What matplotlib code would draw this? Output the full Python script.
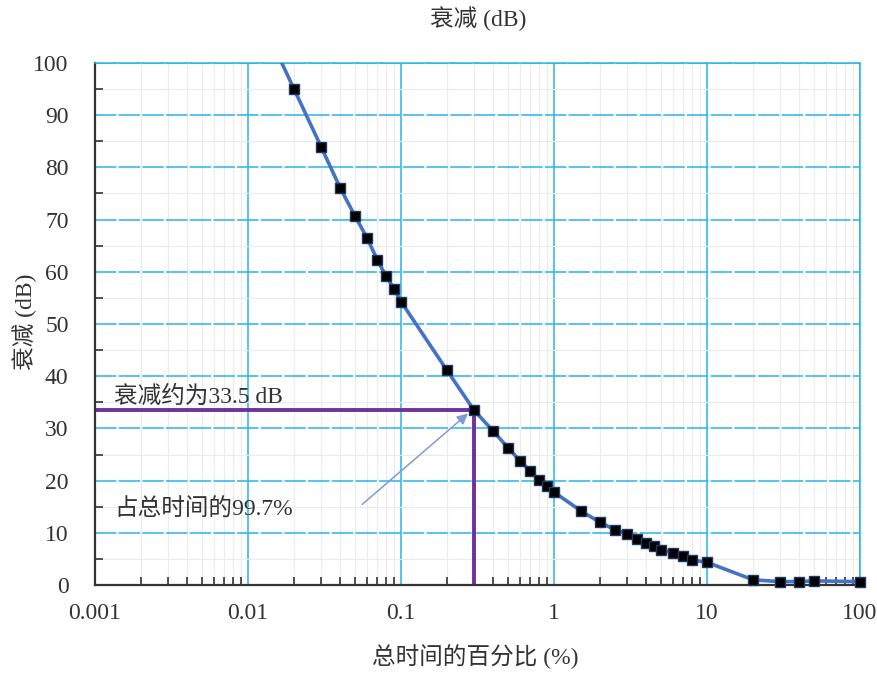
import numpy as np
import matplotlib.pyplot as plt
from matplotlib.ticker import LogLocator, MultipleLocator, FixedLocator, FixedFormatter

plt.rcParams['font.family'] = ['Liberation Serif', 'Noto Sans CJK SC', 'DejaVu Sans']

# percentage of total time (%) vs attenuation (dB)
pct = [0.02, 0.03, 0.04, 0.05, 0.06, 0.07, 0.08, 0.09, 0.1, 0.2, 0.3,
       0.4, 0.5, 0.6, 0.7, 0.8, 0.9, 1.0, 1.5, 2, 2.5, 3, 3.5, 4, 4.5, 5,
       6, 7, 8, 10, 20, 30, 40, 50, 100]
att = [95.0, 84.0, 76.1, 70.7, 66.5, 62.3, 59.1, 56.8, 54.3, 41.1, 33.5,
       29.5, 26.3, 23.8, 21.8, 20.1, 19.0, 17.8, 14.2, 12.0, 10.6, 9.8, 8.75, 8.1, 7.4, 6.8,
       6.2, 5.5, 4.8, 4.35, 1.0, 0.65, 0.65, 0.8, 0.65]
# curve continues above the top of the axes
line_x = [0.015] + pct
line_y = [102.8] + att

mark_x = 0.3
mark_y = 33.5

xticks = [0.001, 0.01, 0.1, 1, 10, 100]
xlabels = ['0.001', '0.01', '0.1', '1', '10', '100']

grid_c = '#27b4e6'
ink = '#333333'

fig = plt.figure(figsize=(8.77, 6.75), dpi=100)
ax = fig.add_axes([0.1083, 0.1333, 0.8723, 0.7734])

ax.set_xscale('log')
ax.set_xlim(0.001, 100)
ax.set_ylim(0, 100)

ax.xaxis.set_major_locator(FixedLocator(xticks))
ax.xaxis.set_major_formatter(FixedFormatter(xlabels))
ax.xaxis.set_minor_locator(LogLocator(base=10, subs=np.arange(2, 10)))
ax.yaxis.set_major_locator(MultipleLocator(10))
ax.yaxis.set_minor_locator(MultipleLocator(5))

ax.grid(True, which='minor', color='#e8ecf0', lw=0.8)
ax.grid(True, axis='x', which='major', color=grid_c, lw=1.1)
ax.grid(True, axis='y', which='major', color=grid_c, lw=1.1, ls=(0, (14, 1.5)))
ax.set_axisbelow(True)

for s in ['top', 'right']:
    ax.spines[s].set_color(grid_c)
    ax.spines[s].set_linewidth(1.1)
for s in ['left', 'bottom']:
    ax.spines[s].set_color(ink)
    ax.spines[s].set_linewidth(1.6)

ax.tick_params(which='both', direction='in', colors=ink, labelcolor=ink)
ax.tick_params(which='major', length=0, labelsize=17)
ax.tick_params(axis='y', which='major', pad=19)
ax.tick_params(axis='x', which='major', pad=13)
ax.tick_params(which='minor', length=6, width=1.2)
ax.tick_params(top=False, right=False, which='both')

ax.plot(line_x, line_y, color='#4472c4', lw=2.6, zorder=3)
ax.plot(pct, att, ls='none', marker='s', ms=7.8, color='black',
        markeredgecolor='#1f3864', zorder=4, clip_on=False)

ax.plot([0.001, mark_x], [mark_y, mark_y], color='#7030a0', lw=2.8, zorder=2.5)
ax.plot([mark_x, mark_x], [0, mark_y], color='#7030a0', lw=2.8, zorder=2.5)

ax.annotate('', xy=(0.283, 33.2), xytext=(0.054, 15.1),
            arrowprops=dict(arrowstyle='-|>', color='#7d9bd6', lw=1.1,
                            mutation_scale=16), zorder=5)

ax.text(0.00134, 36.0, '衰减约为33.5 dB', fontsize=17, color=ink, va='center')
ax.text(0.00134, 14.4, '占总时间的99.7%', fontsize=17, color=ink, va='center')

fig.text(0.5416, 0.0267, '总时间的百分比 (%)', fontsize=17, color=ink, ha='center', va='center')
fig.text(0.0285, 0.523, '衰减 (dB)', fontsize=17, color=ink, ha='center', va='center',
         rotation=90)
fig.text(0.545, 0.973, '衰减 (dB)', fontsize=17, color=ink, ha='center', va='center')

fig.savefig('out.png', dpi=100)
